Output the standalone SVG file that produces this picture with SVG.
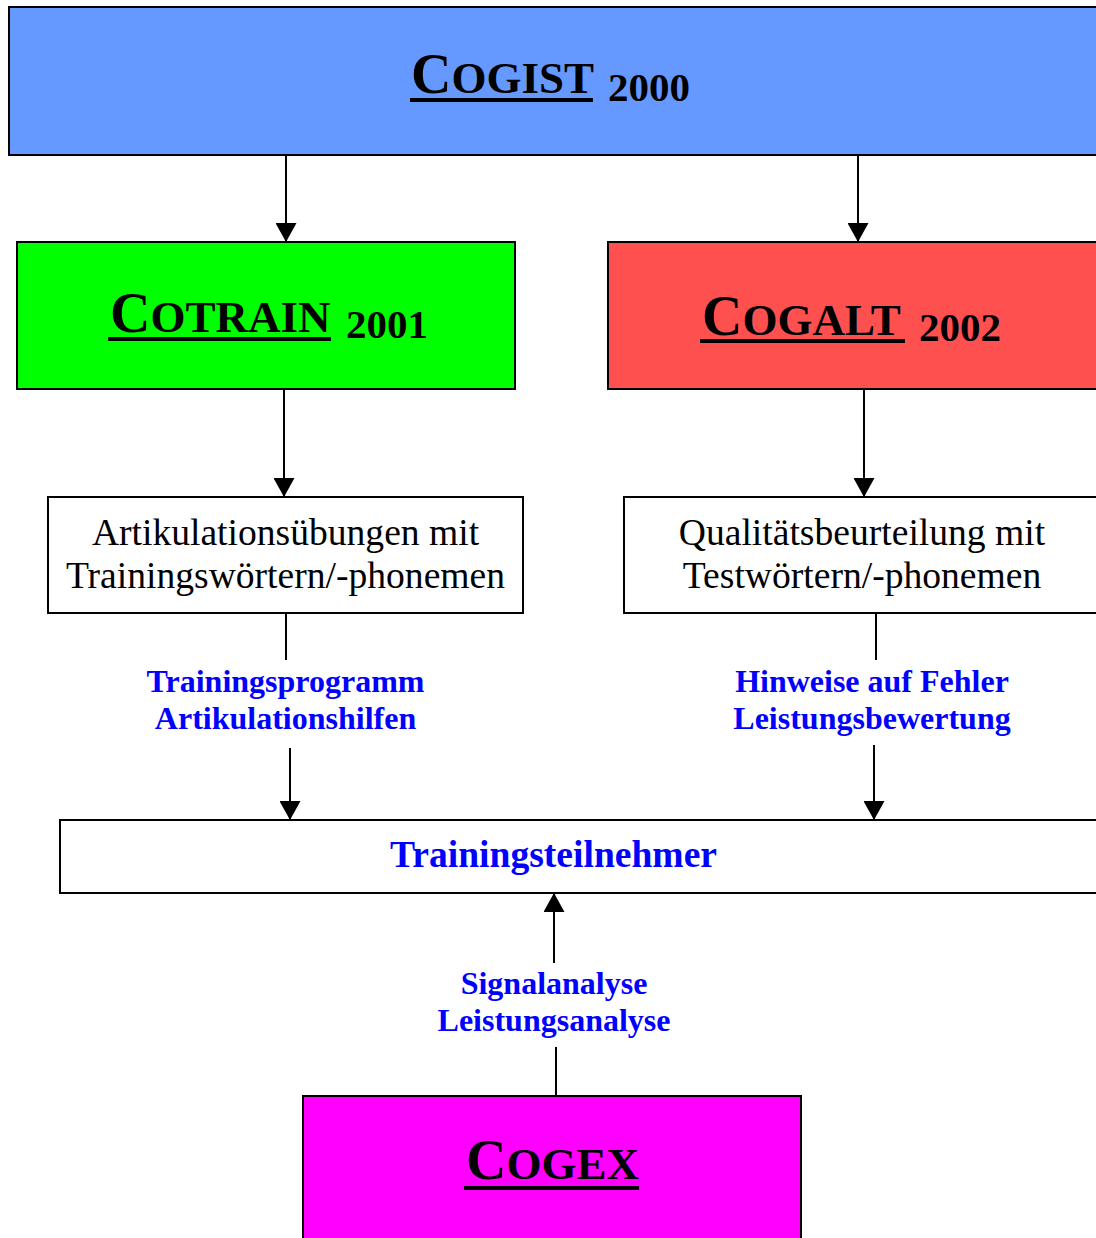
<svg xmlns="http://www.w3.org/2000/svg" width="1096" height="1238" viewBox="0 0 1096 1238">
<style>
.box{stroke:#000;stroke-width:2}
.title{font-family:"Liberation Serif","Times New Roman",serif;font-weight:bold;fill:#000}
.body{font-family:"Liberation Serif","Times New Roman",serif;font-size:37.6px;fill:#000;text-anchor:middle}
.lbl{font-family:"Liberation Serif","Times New Roman",serif;font-weight:bold;font-size:32px;fill:#0000FF;text-anchor:middle}
.con{stroke:#000;stroke-width:2;fill:none}
.big{font-size:56px}
.sm{font-size:45px}
.yr{font-size:41px}
</style>
<defs>
<marker id="ah" markerUnits="userSpaceOnUse" markerWidth="21" markerHeight="21" viewBox="0 0 20 21" refX="19" refY="10.5" orient="auto">
<path d="M0,0 L19,10.5 L0,21 Z" fill="#000"/>
</marker>
</defs>
<rect x="0" y="0" width="1096" height="1238" fill="#fff"/>
<g id="cogist">
<rect class="box" x="9" y="7" width="1110" height="148" fill="#6699FF"/>
<text class="title" x="411" y="93"><tspan class="big">C</tspan><tspan class="sm">OGIST</tspan></text>
<rect x="410" y="98" width="183" height="4" fill="#000"/>
<text class="title yr" x="608" y="101">2000</text>
</g>
<g id="cotrain">
<rect class="box" x="17" y="242" width="498" height="147" fill="#00FF00"/>
<text class="title" x="110" y="332"><tspan class="big">C</tspan><tspan class="sm">OTRAIN</tspan></text>
<rect x="108" y="337" width="223" height="4" fill="#000"/>
<text class="title yr" x="346" y="338">2001</text>
</g>
<g id="cogalt">
<rect class="box" x="608" y="242" width="510" height="147" fill="#FF5050"/>
<text class="title" x="702" y="335"><tspan class="big">C</tspan><tspan class="sm">OGALT</tspan></text>
<rect x="700" y="339" width="205" height="4" fill="#000"/>
<text class="title yr" x="919" y="341">2002</text>
</g>
<g id="artikulation">
<rect class="box" x="48" y="497" width="475" height="116" fill="#fff"/>
<text class="body" x="285.5" y="545">Artikulationsübungen mit</text>
<text class="body" x="285.5" y="588">Trainingswörtern/-phonemen</text>
</g>
<g id="qualitaet">
<rect class="box" x="624" y="497" width="490" height="116" fill="#fff"/>
<text class="body" x="862" y="545">Qualitätsbeurteilung mit</text>
<text class="body" x="862" y="588">Testwörtern/-phonemen</text>
</g>
<g id="teilnehmer">
<rect class="box" x="60" y="820" width="1050" height="73" fill="#fff"/>
<text class="lbl" x="553.5" y="867" style="font-size:37.6px">Trainingsteilnehmer</text>
</g>
<g id="cogex">
<rect class="box" x="303" y="1096" width="498" height="160" fill="#FF00FF"/>
<text class="title" x="466" y="1179"><tspan class="big">C</tspan><tspan class="sm">OGEX</tspan></text>
<rect x="464" y="1186" width="175" height="4" fill="#000"/>
</g>
<g id="connectors">
<line class="con" x1="286" y1="155" x2="286" y2="242" marker-end="url(#ah)"/>
<line class="con" x1="858" y1="155" x2="858" y2="242" marker-end="url(#ah)"/>
<line class="con" x1="284" y1="390" x2="284" y2="497" marker-end="url(#ah)"/>
<line class="con" x1="864" y1="390" x2="864" y2="497" marker-end="url(#ah)"/>
<line class="con" x1="286" y1="614" x2="286" y2="660"/>
<line class="con" x1="290" y1="748" x2="290" y2="820" marker-end="url(#ah)"/>
<line class="con" x1="876" y1="614" x2="876" y2="660"/>
<line class="con" x1="874" y1="745" x2="874" y2="820" marker-end="url(#ah)"/>
<line class="con" x1="554" y1="963" x2="554" y2="893" marker-end="url(#ah)"/>
<line class="con" x1="556" y1="1047" x2="556" y2="1096"/>
<text class="lbl" x="285.5" y="692">Trainingsprogramm</text>
<text class="lbl" x="285.5" y="729">Artikulationshilfen</text>
<text class="lbl" x="872" y="692">Hinweise auf Fehler</text>
<text class="lbl" x="872" y="729">Leistungsbewertung</text>
<text class="lbl" x="554" y="994">Signalanalyse</text>
<text class="lbl" x="554" y="1031">Leistungsanalyse</text>
</g>
</svg>
